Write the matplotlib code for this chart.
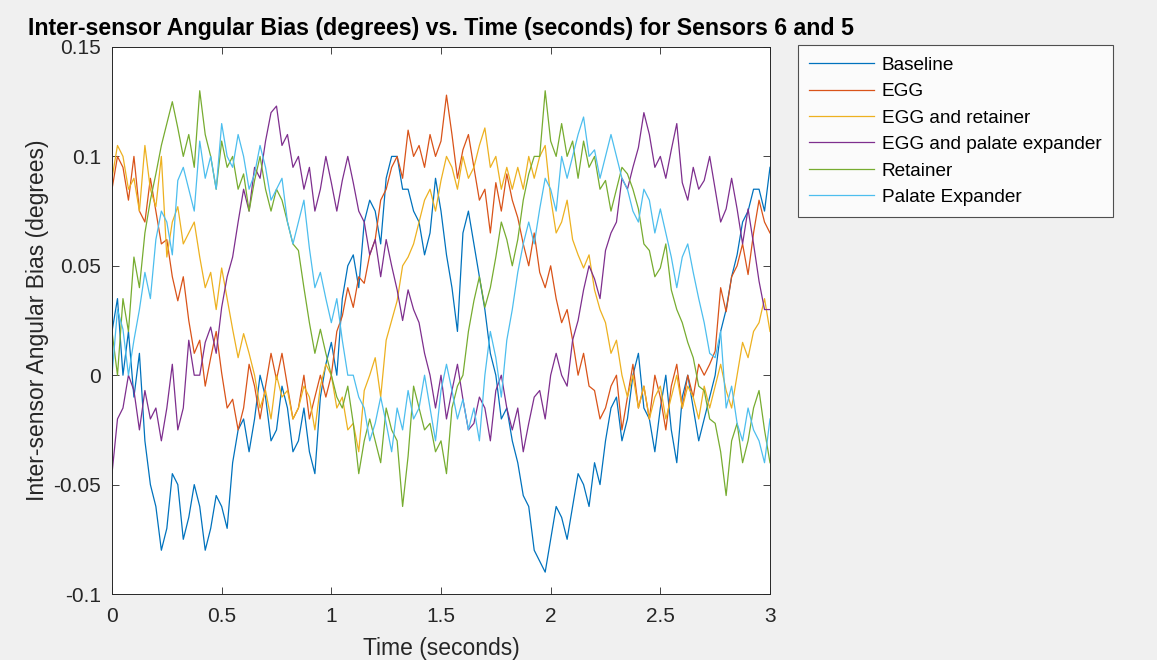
import numpy as np
import matplotlib.pyplot as plt

plt.rcParams['font.family'] = ['Liberation Sans', 'DejaVu Sans']

# time axis (seconds), values every 0.025 s
t = np.linspace(0, 3, 121)

baseline = [0.02, 0.035, 0.0, 0.02, -0.01, 0.01, -0.03, -0.05, -0.06, -0.08,
            -0.07, -0.045, -0.05, -0.075, -0.065, -0.05, -0.06, -0.08, -0.07, -0.055,
            -0.06, -0.07, -0.04, -0.025, -0.02, -0.035, -0.02, 0.0, -0.01, -0.03,
            -0.025, -0.005, -0.015, -0.035, -0.03, -0.015, -0.035, -0.045, -0.01, 0.005,
            0.015, 0.0, 0.035, 0.05, 0.055, 0.04, 0.07, 0.08, 0.075, 0.06,
            0.09, 0.1, 0.1, 0.085, 0.085, 0.075, 0.07, 0.055, 0.065, 0.09,
            0.075, 0.055, 0.04, 0.02, 0.065, 0.075, 0.06, 0.045, 0.03, 0.01,
            0.0, -0.02, -0.015, -0.03, -0.04, -0.055, -0.06, -0.08, -0.085, -0.09,
            -0.075, -0.06, -0.065, -0.075, -0.06, -0.045, -0.05, -0.06, -0.04, -0.05,
            -0.03, -0.015, -0.01, -0.03, -0.02, 0.0, 0.01, -0.015, -0.02, -0.035,
            -0.015, 0.0, -0.025, -0.04, -0.01, 0.0, -0.015, -0.03, -0.02, -0.01,
            0.0, 0.02, 0.03, 0.045, 0.055, 0.07, 0.075, 0.085, 0.085, 0.075,
            0.095]

egg = [0.085, 0.1, 0.095, 0.08, 0.1, 0.075, 0.07, 0.09, 0.075, 0.06,
       0.062, 0.045, 0.034, 0.045, 0.025, 0.01, 0.016, -0.005, 0.008, 0.02,
       0.001, -0.015, -0.011, -0.025, -0.015, 0.005, -0.005, -0.02, -0.005, 0.01,
       -0.002, 0.01, -0.005, -0.02, -0.015, 0.0, -0.02, -0.01, 0.0, -0.01,
       0.0, 0.02, 0.027, 0.04, 0.031, 0.045, 0.042, 0.055, 0.062, 0.08,
       0.085, 0.095, 0.1, 0.09, 0.112, 0.1, 0.105, 0.095, 0.11, 0.1,
       0.107, 0.128, 0.11, 0.09, 0.103, 0.11, 0.095, 0.08, 0.085, 0.065,
       0.088, 0.075, 0.092, 0.08, 0.072, 0.06, 0.05, 0.065, 0.047, 0.04,
       0.05, 0.035, 0.024, 0.03, 0.016, 0.0, 0.01, -0.005, -0.007, -0.02,
       -0.015, -0.005, 0.0, -0.025, -0.01, 0.005, -0.015, -0.005, -0.02, 0.0,
       -0.01, -0.025, -0.005, 0.005, -0.015, 0.0, -0.01, 0.005, 0.0, 0.005,
       0.011, 0.04, 0.029, 0.045, 0.05, 0.06, 0.046, 0.065, 0.08, 0.07,
       0.065]

egg_retainer = [0.09, 0.105, 0.1, 0.085, 0.09, 0.075, 0.105, 0.085, 0.077, 0.1,
                0.054, 0.07, 0.077, 0.06, 0.065, 0.07, 0.054, 0.04, 0.047, 0.03,
                0.049, 0.035, 0.021, 0.008, 0.019, 0.01, 0.0, -0.015, -0.007, -0.02,
                0.0, -0.01, -0.007, -0.02, -0.015, -0.005, -0.01, -0.025, -0.005, 0.005,
                0.0, -0.015, -0.01, -0.025, -0.022, -0.035, -0.007, 0.0, 0.008, -0.01,
                0.016, 0.025, 0.034, 0.05, 0.054, 0.06, 0.07, 0.08, 0.085, 0.075,
                0.089, 0.1, 0.095, 0.085, 0.1, 0.09, 0.095, 0.105, 0.113, 0.095,
                0.1, 0.085, 0.095, 0.085, 0.095, 0.085, 0.1, 0.09, 0.1, 0.105,
                0.081, 0.065, 0.07, 0.08, 0.062, 0.055, 0.049, 0.055, 0.039, 0.03,
                0.024, 0.01, 0.016, 0.0, -0.01, 0.0, -0.015, -0.005, -0.02, -0.01,
                -0.005, -0.02, -0.01, 0.0, -0.015, -0.005, -0.01, -0.02, -0.005, -0.015,
                -0.005, 0.005, -0.007, -0.015, 0.0, 0.015, 0.008, 0.02, 0.024, 0.035,
                0.02]

egg_expander = [-0.045, -0.02, -0.015, 0.0, -0.007, -0.025, -0.007, -0.02, -0.015, -0.03,
                -0.015, 0.005, -0.025, -0.015, 0.016, 0.0, 0.0, 0.015, 0.022, 0.01,
                0.031, 0.045, 0.054, 0.07, 0.085, 0.075, 0.095, 0.09, 0.107, 0.12,
                0.123, 0.105, 0.11, 0.095, 0.1, 0.085, 0.095, 0.075, 0.085, 0.1,
                0.088, 0.075, 0.089, 0.1, 0.088, 0.075, 0.07, 0.055, 0.062, 0.045,
                0.062, 0.05, 0.039, 0.025, 0.039, 0.03, 0.024, 0.01, 0.0, -0.015,
                0.0, -0.02, -0.007, 0.005, -0.011, -0.025, -0.022, -0.01, -0.015, -0.03,
                -0.007, 0.0, -0.015, -0.025, -0.015, -0.035, -0.022, -0.01, -0.007, -0.02,
                0.0, 0.01, 0.0, -0.005, 0.016, 0.025, 0.039, 0.05, 0.044, 0.035,
                0.057, 0.065, 0.07, 0.09, 0.085, 0.095, 0.104, 0.12, 0.11, 0.095,
                0.1, 0.09, 0.103, 0.115, 0.088, 0.08, 0.095, 0.085, 0.089, 0.1,
                0.085, 0.07, 0.076, 0.09, 0.076, 0.06, 0.076, 0.06, 0.043, 0.03,
                0.03]

retainer = [0.02, 0.0, 0.035, 0.02, 0.054, 0.04, 0.065, 0.08, 0.092, 0.105,
            0.115, 0.125, 0.113, 0.1, 0.11, 0.095, 0.13, 0.11, 0.1, 0.085,
            0.107, 0.095, 0.1, 0.085, 0.092, 0.075, 0.089, 0.1, 0.085, 0.075,
            0.085, 0.08, 0.07, 0.06, 0.057, 0.04, 0.024, 0.01, 0.021, 0.01,
            0.0, -0.01, -0.015, -0.005, -0.022, -0.045, -0.03, -0.02, -0.03, -0.04,
            -0.015, -0.025, -0.03, -0.06, -0.037, -0.005, -0.015, -0.025, -0.022, -0.035,
            -0.03, -0.045, -0.015, -0.005, 0.0, 0.02, 0.034, 0.045, 0.031, 0.04,
            0.054, 0.07, 0.062, 0.05, 0.062, 0.08, 0.092, 0.1, 0.1, 0.13,
            0.107, 0.1, 0.115, 0.1, 0.107, 0.09, 0.107, 0.095, 0.1, 0.085,
            0.089, 0.075, 0.085, 0.095, 0.092, 0.085, 0.076, 0.06, 0.057, 0.045,
            0.049, 0.06, 0.039, 0.03, 0.024, 0.015, 0.008, -0.005, -0.007, -0.02,
            -0.022, -0.035, -0.055, -0.03, -0.022, -0.04, -0.03, -0.015, -0.007, -0.025,
            -0.04]

palate_expander = [0.0, 0.03, 0.021, 0.0, 0.016, 0.03, 0.047, 0.035, 0.062, 0.075,
                   0.07, 0.055, 0.089, 0.095, 0.085, 0.075, 0.107, 0.09, 0.1, 0.085,
                   0.115, 0.1, 0.095, 0.11, 0.1, 0.085, 0.092, 0.105, 0.095, 0.08,
                   0.085, 0.09, 0.07, 0.06, 0.07, 0.08, 0.058, 0.04, 0.047, 0.035,
                   0.024, 0.035, 0.016, 0.0, 0.0, -0.01, -0.015, -0.03, -0.022, -0.01,
                   -0.022, -0.035, -0.015, -0.025, -0.007, -0.02, -0.015, 0.0, -0.015, -0.03,
                   -0.007, 0.005, -0.007, -0.02, -0.011, -0.025, -0.015, -0.03, 0.0, 0.02,
                   0.008, -0.01, 0.016, 0.03, 0.047, 0.06, 0.07, 0.06, 0.076, 0.09,
                   0.085, 0.075, 0.1, 0.09, 0.1, 0.11, 0.118, 0.1, 0.103, 0.09,
                   0.1, 0.11, 0.1, 0.09, 0.085, 0.075, 0.07, 0.085, 0.08, 0.065,
                   0.076, 0.065, 0.054, 0.04, 0.054, 0.06, 0.047, 0.035, 0.024, 0.01,
                   0.008, 0.02, -0.015, -0.005, -0.022, -0.03, -0.015, -0.025, -0.03, -0.04,
                   -0.02]

names = ["Baseline", "EGG", "EGG and retainer", "EGG and palate expander",
         "Retainer", "Palate Expander"]
series = [baseline, egg, egg_retainer, egg_expander, retainer, palate_expander]
colors = ["#0072BD", "#D95319", "#EDB120", "#7E2F8E", "#77AC30", "#4DBEEE"]

fig = plt.figure(figsize=(11.57, 6.6), dpi=100, facecolor="#F0F0F0")
ax = fig.add_axes([112/1157, 66/660, 658/1157, 547/660])

for name, y, c in zip(names, series, colors):
    ax.plot(t, y, color=c, lw=0.9, label=name)

ax.set_xlim(0, 3)
ax.set_ylim(-0.1, 0.15)
ax.set_xticks(np.arange(0, 3.01, 0.5))
ax.set_xticklabels(["0", "0.5", "1", "1.5", "2", "2.5", "3"])
ax.set_yticks([-0.1, -0.05, 0, 0.05, 0.1, 0.15])
ax.set_yticklabels(["-0.1", "-0.05", "0", "0.05", "0.1", "0.15"])
ax.tick_params(direction="in", top=True, right=True, labelsize=15,
               colors="#262626", length=5, width=0.6)
ax.tick_params(axis="y", pad=8)
ax.tick_params(axis="x", pad=9)
for s in ax.spines.values():
    s.set_color("#262626")
    s.set_linewidth(0.7)

ax.set_xlabel("Time (seconds)", fontsize=16.5, color="#262626", labelpad=8)
ax.set_ylabel("Inter-sensor Angular Bias (degrees)", fontsize=16.5, color="#262626", labelpad=3)
ax.set_title("Inter-sensor Angular Bias (degrees) vs. Time (seconds) for Sensors 6 and 5",
             fontsize=16.7, fontweight="bold", pad=9)

leg = fig.legend(loc="upper left", bbox_to_anchor=(798/1157, 1 - 45/660),
                 fontsize=13.7, frameon=True, fancybox=False, handlelength=3.4,
                 borderpad=0.6, labelspacing=0.48, handletextpad=0.4,
                 borderaxespad=0)
leg.get_frame().set_edgecolor("#262626")
leg.get_frame().set_linewidth(0.8)
leg.get_frame().set_facecolor("white")

fig.savefig("out.png", dpi=100, facecolor=fig.get_facecolor())
